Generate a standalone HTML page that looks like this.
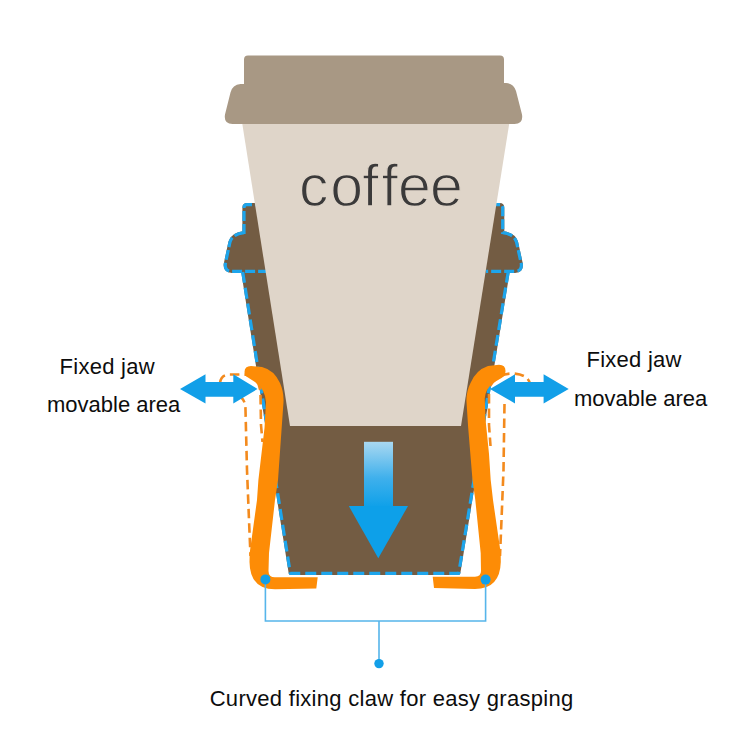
<!DOCTYPE html>
<html lang="en">
<head>
<meta charset="utf-8">
<title>Coffee cup holder – fixed jaw diagram</title>
<style>
  html, body { margin: 0; padding: 0; background: #ffffff; }
  body { width: 750px; height: 750px; position: relative; overflow: hidden;
         font-family: "Liberation Sans", Arial, sans-serif; color: #111; }
  svg { position: absolute; left: 0; top: 0; display: block; }
  .label { position: absolute; white-space: nowrap; font-size: 22px; line-height: 22px; color: #0d0d0d; }
  .coffee { position: absolute; white-space: nowrap; font-size: 59px; line-height: 59px; color: #3b3a3a;
            -webkit-text-stroke: 1.3px #dfd5c9; font-variant-ligatures: none; font-feature-settings: "liga" 0, "clig" 0; }
</style>
</head>
<body>
<svg width="750" height="750" viewBox="0 0 750 750">
  <defs>
    <linearGradient id="shaft" x1="0" y1="0" x2="0" y2="1">
      <stop offset="0" stop-color="#a9d8f1"/>
      <stop offset="0.55" stop-color="#3fb0ec"/>
      <stop offset="1" stop-color="#0da0e9"/>
    </linearGradient>
  </defs>

  <!-- holder (dark brown, dashed blue outline) -->
  <path id="holder" d="M247,204.7 L499.7,204.7 Q502.7,204.7 502.7,207.7 L502.7,232.7
           Q514,234 516.5,242 L521.3,264 Q522,271.3 515,271.3 L508.2,271.3
           L458.7,573.3 L290.3,573.3 L242.7,271.3 L232,271.3 Q224.6,271.3 225.3,264
           L230,242 Q232.5,234 244,232.7 L244,207.7 Q244,204.7 247,204.7 Z"
        fill="#735c43" stroke="#735c43" stroke-width="3.2" stroke-linejoin="round"/>
  <g fill="none" stroke="#1da5ec" stroke-width="3.2" stroke-linejoin="round">
    <path id="ears" stroke-dasharray="10 3" d="M244,232.7 Q232.5,234 230,242 L225.3,264 Q224.6,271.3 232,271.3 L266,271.3
           M502.7,232.7 Q514,234 516.5,242 L521.3,264 Q522,271.3 515,271.3 L486,271.3"/>
    <path stroke-dasharray="10 3" d="M244,234 L244,207.7 Q244,204.7 247,204.7 L260,204.7 M490,204.7 L499.7,204.7 Q502.7,204.7 502.7,207.7 L502.7,234"/>
    <path stroke-dasharray="11 5" d="M242.7,272 L290.3,573.3 L458.7,573.3 L508.2,272"/>
  </g>

  <!-- cup body -->
  <path d="M242,122 L509.5,122 L461,426 L290,426 Z" fill="#dfd5c9"/>

  <!-- lid -->
  <path d="M248,55.5 L500,55.5 Q504,55.5 504,59.5 L504,83 L506,83 Q513.5,83.5 516,91 L522,114.5 Q523.5,124 514.5,124
           L232.5,124 Q223.5,124 225,114.5 L230.5,92.5 Q232.5,84.5 240.5,84 L244,84 L244,59.5 Q244,55.5 248,55.5 Z" fill="#a89884"/>

  <!-- ghost (dashed orange) jaws -->
  <g fill="none" stroke="#f38a1d" stroke-width="2.6" stroke-dasharray="9.5 5" stroke-linecap="butt">
    <path d="M220,383 Q221,374.5 230,374.5 L244,374.5 Q260,376 260.5,394 L261,425 L262.5,442"/>
    <path d="M238,396 Q245.5,398 245.5,410 L247,470 L249,520 L250.5,556"/>
    <path d="M490,386 Q498,373.5 512,373.5 Q528,374 530,384"/>
    <path d="M489,394 L489,425 L490.5,446"/>
    <path d="M504.5,404 L503.5,470 L501.5,520 L500,556"/>
  </g>

  <!-- orange jaws -->
  <path id="jawL" d="M244.5,372 Q244.5,366 251,366 L262,367 Q274,370 280,383 Q284,392 283.5,402
           L278,480 L275,500 L269,553 L268.5,571 Q268.5,577.3 275,577.3 L317.7,577.3 L316.3,588.5
           L275,589.3 Q250,589.3 249.5,562 L249.7,553 L257,500 L258.4,480 L264.5,428 L266,402
           Q265,389 255,382 L248,377.5 Q244.5,376 244.5,372 Z" fill="#fd8c06"/>
  <path id="jawR" d="M505.5,371 Q505.5,364.7 499,364.7 L488,366 Q476,370 470.5,383 Q466,392 466.5,402
           L468.2,428 L472.5,480 L475.3,500 L480.7,553 L481,571 Q481,576.7 475,576.7 L432.7,576.7 L434,588
           L475,589 Q500,589 500.8,562 L500.7,553 L493,500 L490.7,480 L489,454 L485.5,419 L484.7,398.5
           Q485.5,389 493,383 L501.5,378 Q505.5,376 505.5,371 Z" fill="#fd8c06"/>

  <!-- blue double arrows -->
  <path d="M180,389 L205.5,374.3 L205.5,382 L233.3,382 L233.3,374.3 L257.5,389 L233.3,403.4 L233.3,396.8 L205.5,396.8 L205.5,403.4 Z" fill="#129fe8"/>
  <path d="M490,389 L515,374.3 L515,382 L543.6,382 L543.6,374.3 L568.7,389 L543.6,403.4 L543.6,396.8 L515,396.8 L515,403.4 Z" fill="#129fe8"/>

  <!-- down arrow -->
  <rect x="364" y="441.8" width="29" height="66" fill="url(#shaft)"/>
  <path d="M348.8,506 L408,506 L378.3,558.3 Z" fill="#0da0e9"/>

  <!-- bracket -->
  <path d="M265.4,580 L265.4,621 L485.6,621 L485.6,580 M379,621 L379,663" fill="none" stroke="#56b5ea" stroke-width="1.6"/>
  <circle cx="265.4" cy="579.4" r="5" fill="#129fe8"/>
  <circle cx="485.6" cy="579.6" r="5" fill="#129fe8"/>
  <circle cx="379" cy="663.6" r="4.7" fill="#129fe8"/>
  <!-- cup lettering -->
  <text id="coffee" x="298.9 330.2 362.3 381.6 398.1 429.9" y="206" font-family="'Liberation Sans', Arial, sans-serif" font-size="59"
        fill="#3b3a3a" stroke="#dfd5c9" stroke-width="1.3" style="font-variant-ligatures:none">coffee</text>
</svg>


<div class="label" id="l1" style="left:59.6px; top:355.5px; letter-spacing:0.25px;">Fixed jaw</div>
<div class="label" id="l2" style="left:47px; top:394.2px;">movable area</div>
<div class="label" id="r1" style="left:586.5px; top:349px; letter-spacing:0.25px;">Fixed jaw</div>
<div class="label" id="r2" style="left:574px; top:388px;">movable area</div>
<div class="label" id="cap" style="left:209.7px; top:687.8px; letter-spacing:0.29px;">Curved fixing claw for easy grasping</div>
</body>
</html>
